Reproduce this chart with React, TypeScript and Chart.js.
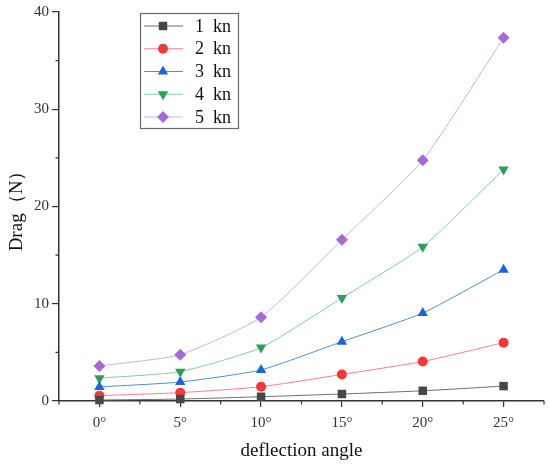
import React, { useEffect, useRef } from "react";
import { Chart, registerables } from "chart.js";

Chart.register(...registerables);

const angles = [0, 5, 10, 15, 20, 25];
const seriesNames = ["1  kn", "2  kn", "3  kn", "4  kn", "5  kn"];
const kn1 = [0.1, 0.2, 0.44, 0.72, 1.05, 1.53];
const kn2 = [0.55, 0.86, 1.47, 2.73, 4.06, 6.0];
const kn3 = [1.45, 1.95, 3.2, 6.1, 9.05, 13.5];
const kn4 = [2.35, 3.02, 5.49, 10.6, 15.86, 23.8];
const kn5 = [3.6, 4.76, 8.62, 16.57, 24.76, 37.34];
const xTicks = [0, 5, 10, 15, 20, 25];
const xMinorTicks = [-2.5, 2.5, 7.5, 12.5, 17.5, 22.5, 27.5];
const yMinorTicks = [5, 15, 25, 35];

const FONT = "'Liberation Serif', 'Times New Roman', serif";

const markerColors = ["#474747", "#f03a3a", "#1f63d8", "#2e9e5b", "#a66ad8"];
const lineColors = ["#6e6e6e", "#ff7d8c", "#4d8fcf", "#80cfa0", "#cbb0e8"];
const pointStyles = ["rect", "circle", "triangle", "triangle", "rectRot"];
const pointRotations = [0, 0, 0, 180, 0];
const pointRadii = [6, 5, 6, 6, 6];

const minorTicksPlugin = {
  id: "minorTicks",
  afterDraw(chart: any) {
    const ctx = chart.ctx;
    const xs = chart.scales.x;
    const ys = chart.scales.y;
    ctx.save();
    ctx.strokeStyle = "#333";
    ctx.lineWidth = 1.2;
    ctx.beginPath();
    xMinorTicks.forEach((v) => {
      const px = xs.getPixelForValue(v);
      ctx.moveTo(px, ys.bottom);
      ctx.lineTo(px, ys.bottom + 3.5);
    });
    yMinorTicks.forEach((v) => {
      const py = ys.getPixelForValue(v);
      ctx.moveTo(xs.left, py);
      ctx.lineTo(xs.left - 3.5, py);
    });
    ctx.stroke();
    ctx.restore();
  },
};

const insideLegendPlugin = {
  id: "insideLegend",
  afterDraw(chart: any) {
    const ctx = chart.ctx;
    const left = 140.5;
    const top = 13.5;
    const w = 98;
    const h = 115;
    ctx.save();
    ctx.fillStyle = "#ffffff";
    ctx.fillRect(left, top, w, h);
    ctx.strokeStyle = "#6a6a6a";
    ctx.lineWidth = 1.2;
    ctx.strokeRect(left, top, w, h);
    chart.data.datasets.forEach((ds: any, i: number) => {
      const y = 26 + i * 22.75;
      ctx.strokeStyle = ds.borderColor;
      ctx.lineWidth = 1;
      ctx.beginPath();
      ctx.moveTo(144, y);
      ctx.lineTo(183, y);
      ctx.stroke();
      const meta = chart.getDatasetMeta(i);
      const el = meta.data[0];
      if (el) {
        const saved = { x: el.x, y: el.y };
        el.x = 163;
        el.y = y;
        el.draw(ctx, undefined);
        el.x = saved.x;
        el.y = saved.y;
      }
      ctx.fillStyle = "#111";
      ctx.font = `18px ${FONT}`;
      ctx.textBaseline = "middle";
      ctx.textAlign = "left";
      ctx.fillText(ds.label, 195, y + 1);
    });
    ctx.restore();
  },
};

export default function App() {
  const canvasRef = useRef<HTMLCanvasElement | null>(null);

  useEffect(() => {
    document.body.style.margin = "0";
    const canvas = canvasRef.current;
    if (!canvas) return;
    const allSeries = [kn1, kn2, kn3, kn4, kn5];
    const chart = new Chart(canvas, {
      type: "line",
      data: {
        datasets: allSeries.map((vals, i) => ({
          label: seriesNames[i],
          data: vals.map((v, j) => ({ x: angles[j], y: v })),
          borderColor: lineColors[i],
          backgroundColor: markerColors[i],
          pointBackgroundColor: markerColors[i],
          pointBorderColor: markerColors[i],
          pointBorderWidth: 0,
          pointStyle: pointStyles[i] as any,
          pointRotation: pointRotations[i],
          pointRadius: pointRadii[i],
          pointHoverRadius: pointRadii[i],
          borderWidth: 1,
          tension: 0.18,
          clip: false as any,
          fill: false,
        })),
      },
      options: {
        animation: false,
        responsive: false,
        maintainAspectRatio: false,
        devicePixelRatio: 1,
        layout: { padding: { left: 0, right: 5, top: 10, bottom: 0 } },
        plugins: {
          legend: { display: false },
          tooltip: { enabled: false },
        },
        scales: {
          x: {
            type: "linear",
            min: -2.5,
            max: 27.5,
            afterBuildTicks(scale: any) {
              scale.ticks = xTicks.map((v) => ({ value: v }));
            },
            afterFit(scale: any) {
              scale.height = 65;
            },
            ticks: {
              autoSkip: false,
              maxRotation: 0,
              padding: 7,
              color: "#333",
              font: { family: FONT, size: 15 },
              callback: (v: any) => `${v}°`,
            },
            grid: {
              display: true,
              drawOnChartArea: false,
              drawTicks: true,
              tickLength: 6,
              color: "#333",
              lineWidth: 1.2,
            },
            border: { display: true, color: "#333", width: 1.5 },
            title: {
              display: true,
              text: "deflection angle",
              color: "#111",
              font: { family: FONT, size: 19 },
              padding: { top: 0, bottom: 4 },
            },
          },
          y: {
            type: "linear",
            min: 0,
            max: 40,
            afterFit(scale: any) {
              scale.width = 59;
            },
            ticks: {
              stepSize: 10,
              padding: 3,
              color: "#333",
              font: { family: FONT, size: 15 },
            },
            grid: {
              display: true,
              drawOnChartArea: false,
              drawTicks: true,
              tickLength: 7,
              color: "#333",
              lineWidth: 1.2,
            },
            border: { display: true, color: "#333", width: 1.5 },
            title: {
              display: true,
              text: "Drag（N）",
              color: "#111",
              font: { family: FONT, size: 19 },
              padding: { top: 6, bottom: 0 },
            },
          },
        },
      },
      plugins: [minorTicksPlugin, insideLegendPlugin],
    });
    return () => chart.destroy();
  }, []);

  return (
    <div style={{ width: 550, height: 466 }}>
      <canvas ref={canvasRef} width={550} height={466} style={{ display: "block" }} />
    </div>
  );
}
